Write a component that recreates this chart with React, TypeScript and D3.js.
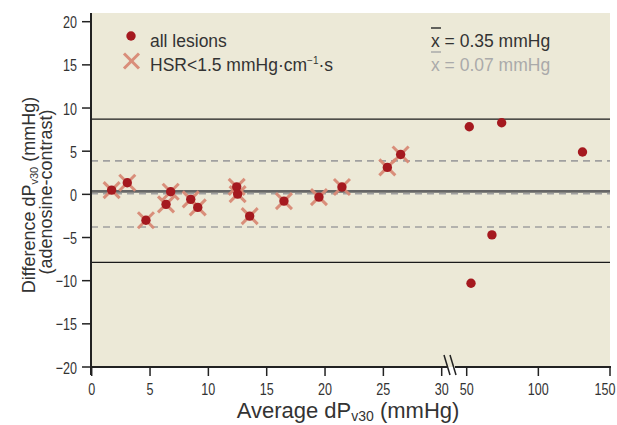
import React from 'react';
import * as d3 from 'd3';

const xTicksLow = [0, 5, 10, 15, 20, 25, 30];
const xTicksHigh = [50, 100, 150];
const yTicks = [-20, -15, -10, -5, 0, 5, 10, 15, 20];

const hsrX = [1.71, 3.05, 4.65, 6.37, 6.77, 8.49, 9.09, 12.43, 12.51, 13.54, 16.48, 19.48, 21.45, 25.34, 26.48];
const hsrY = [0.49, 1.34, -3.0, -1.16, 0.3, -0.58, -1.51, 0.87, 0.03, -2.52, -0.78, -0.32, 0.85, 3.12, 4.62];
const otherX = [51.8, 74.4, 67.6, 53.0, 130.8];
const otherY = [7.83, 8.3, -4.7, -10.3, 4.9];

const meanAll = 0.35;
const meanHsr = 0.07;
const loaAll = [8.71, -7.88];
const loaHsr = [3.88, -3.78];

const W = 617, H = 425;
const left = 91, right = 610, top = 13, bottom = 367;
const textFont = "'Liberation Sans', Arial, sans-serif";
const RED = '#a5191f';
const XCOL = '#d98a76';
const SX = 0.74;

export default function App() {
  const y = d3.scaleLinear().domain([-20, 20]).range([367, 21.7]);
  const xLow = d3.scaleLinear().domain([0, 30]).range([91.7, 441.7]);
  const xHigh = d3.scaleLinear().domain([50, 150]).range([466.7, 610]);
  const xp = (v: number) => (v <= 30 ? xLow(v) : xHigh(v));

  const hsr = hsrX.map((v, i) => ({ x: v, y: hsrY[i] }));
  const other = otherX.map((v, i) => ({ x: v, y: otherY[i] }));
  const all = [...hsr, ...other];

  const xMark = (cx: number, cy: number, s: number, key: string) => (
    <g key={key} stroke={XCOL} strokeWidth={3} strokeLinecap="butt" opacity={0.95}>
      <line x1={cx - s} y1={cy - s} x2={cx + s} y2={cy + s} />
      <line x1={cx - s} y1={cy + s} x2={cx + s} y2={cy - s} />
    </g>
  );

  const tickText = (x: number, yy: number, anchor: string, label: string, key: string) => (
    <text key={key} transform={`translate(${x},${yy}) scale(${SX},1)`} textAnchor={anchor}
      fontFamily={textFont} fontSize={17} fill="#333">{label}</text>
  );

  return (
    <svg width={W} height={H} style={{ position: 'absolute', left: 0, top: 0, background: '#fff' }}>
      <rect x={left} y={top} width={right - left} height={bottom - top} fill="#ece9d7" />

      {loaAll.map((v, i) => (
        <line key={'la' + i} x1={left} x2={right} y1={y(v)} y2={y(v)} stroke="#1a1a1a" strokeWidth={1.4} />
      ))}
      <line x1={left} x2={right} y1={y(meanAll)} y2={y(meanAll)} stroke="#666" strokeWidth={2.6} />
      {[...loaHsr, meanHsr].map((v, i) => (
        <line key={'lh' + i} x1={left} x2={right} y1={y(v)} y2={y(v)} stroke="#a0a0a0" strokeWidth={1.6} strokeDasharray="7,5" />
      ))}

      {hsr.map((d, i) => xMark(xp(d.x), y(d.y), 8, 'hx' + i))}
      {all.map((d, i) => (
        <circle key={'c' + i} cx={xp(d.x)} cy={y(d.y)} r={4.7} fill={RED} />
      ))}

      <line x1={left} x2={left} y1={top} y2={bottom + 8} stroke="#222" strokeWidth={2} />
      <line x1={left - 1} x2={447} y1={bottom} y2={bottom} stroke="#222" strokeWidth={2} />
      <line x1={455} x2={right + 1} y1={bottom} y2={bottom} stroke="#222" strokeWidth={2} />
      <line x1={444} y1={355} x2={450} y2={375} stroke="#222" strokeWidth={1.5} />
      <line x1={450} y1={355} x2={456} y2={375} stroke="#222" strokeWidth={1.5} />

      {yTicks.map((t) => (
        <g key={'yt' + t}>
          <line x1={left - 9} x2={left} y1={y(t)} y2={y(t)} stroke="#222" strokeWidth={1.5} />
          {tickText(left - 14, y(t) + 6.5, 'end', t < 0 ? '\u2212' + Math.abs(t) : String(t), 'ytl' + t)}
        </g>
      ))}
      {xTicksLow.map((t) => (
        <g key={'xl' + t}>
          <line x1={xLow(t)} x2={xLow(t)} y1={bottom} y2={bottom + 9} stroke="#222" strokeWidth={1.5} />
          {tickText(xLow(t), bottom + 28, 'middle', String(t), 'xll' + t)}
        </g>
      ))}
      {xTicksHigh.map((t) => (
        <g key={'xh' + t}>
          <line x1={xHigh(t)} x2={xHigh(t)} y1={bottom} y2={bottom + 9} stroke="#222" strokeWidth={1.5} />
          {tickText(t === 150 ? xHigh(t) - 5 : xHigh(t), bottom + 28, 'middle', String(t), 'xhl' + t)}
        </g>
      ))}

      <text x={348} y={418} textAnchor="middle" fontFamily={textFont} fontSize={22} fill="#333">
        Average dP<tspan fontSize={14} dy={3}>v30</tspan><tspan dy={-3}> (mmHg)</tspan>
      </text>
      <text transform="translate(35,195) rotate(-90)" textAnchor="middle" fontFamily={textFont} fontSize={18} fill="#333">
        Difference dP<tspan fontSize={11} dy={3}>v30</tspan><tspan dy={-3}>  (mmHg)</tspan>
      </text>
      <text transform="translate(52,192) rotate(-90)" textAnchor="middle" fontFamily={textFont} fontSize={18} fill="#333">
        (adenosine-contrast)
      </text>

      <circle cx={131} cy={36} r={4.7} fill={RED} />
      <text x={150} y={47} fontFamily={textFont} fontSize={17.5} fill="#333">all lesions</text>
      {xMark(131.5, 61, 7.5, 'legx')}
      <text x={150} y={71} fontFamily={textFont} fontSize={17.5} fill="#333">
        HSR&lt;1.5 mmHg·cm<tspan fontSize={10} dy={-7}>−1</tspan><tspan dy={7}>·s</tspan>
      </text>

      <line x1={431} x2={441} y1={28} y2={28} stroke="#333" strokeWidth={1.5} />
      <text x={431} y={47} fontFamily={textFont} fontSize={17.5} fill="#333">x = 0.35 mmHg</text>
      <line x1={431} x2={441} y1={52} y2={52} stroke="#aaa" strokeWidth={1.5} />
      <text x={431} y={71} fontFamily={textFont} fontSize={17.5} fill="#aaa">x = 0.07 mmHg</text>
    </svg>
  );
}
